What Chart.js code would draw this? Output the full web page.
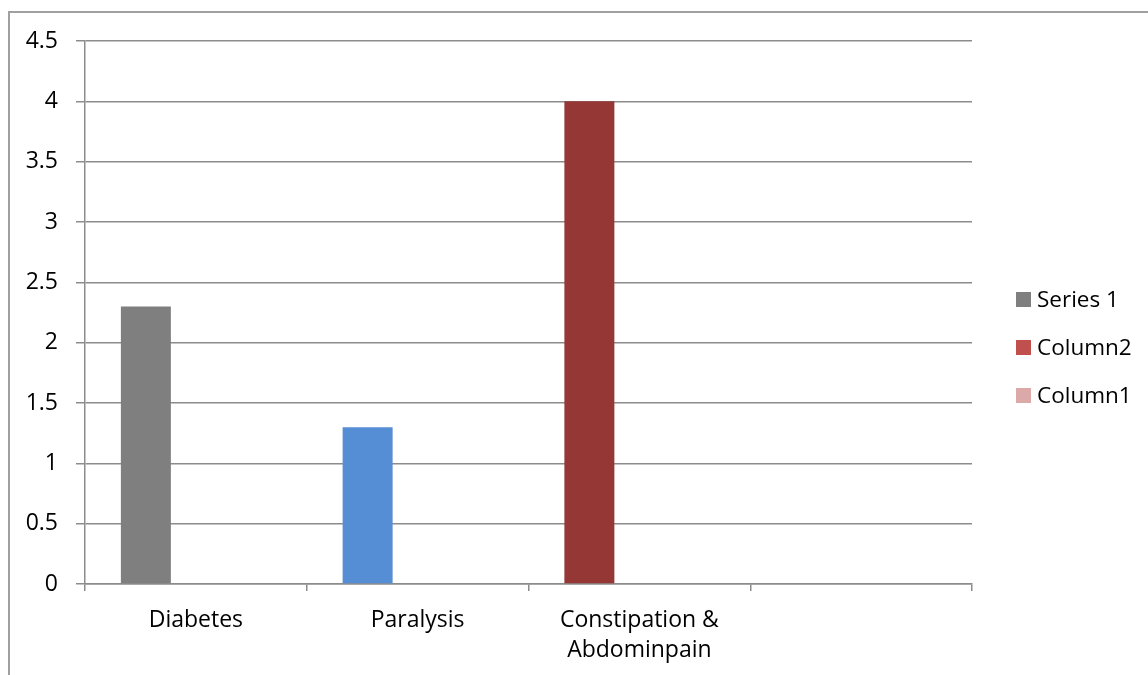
<!DOCTYPE html>
<html>
<head>
<meta charset="utf-8">
<script src="https://cdn.jsdelivr.net/npm/chart.js@4"></script>
<style>
  html, body { margin: 0; padding: 0; background: #fff; overflow: hidden; }
  #wrap { position: relative; width: 1148px; height: 675px; }
  #frame {
    position: absolute; left: 8px; top: 11px; width: 1400px; height: 900px;
    border-left: 2px solid #a0a0a0; border-top: 2px solid #a0a0a0;
    pointer-events: none;
  }
  #legend {
    position: absolute; left: 1016px; top: 286px;
    font-family: "Open Sans", sans-serif; font-size: 22.5px; color: #000;
  }
  .item { height: 48px; display: flex; align-items: flex-start; }
  .box { width: 15px; height: 15px; margin-top: 6px; margin-right: 6px; }
  .label { line-height: 27px; margin-top: -1px; }
</style>
</head>
<body>
<div id="wrap">
  <canvas id="chart" width="1148" height="675"></canvas>
  <div id="frame"></div>
  <div id="legend"></div>
</div>
<script>
// categories along the x axis (last one is empty in the original)
const categories = ['Diabetes', 'Paralysis', ['Constipation &', 'Abdominpain'], ''];

// series
const seriesNames = ['Series 1', 'Column2', 'Column1'];
const series1 = [2.3, 1.3, 4, null];
const column2 = [null, null, null, null];
const column1 = [null, null, null, null];

// colours
const series1BarColors = ['#7f7f7f', '#558ed5', '#953735', '#7f7f7f'];
const legendColors = ['#7f7f7f', '#c0504d', '#dca9a9'];

// y axis
const yMin = 0, yMax = 4.5, yStep = 0.5;

const gridColor = '#8c8c8c';
const fontFamily = '"Open Sans", sans-serif';

Chart.defaults.font.family = fontFamily;
Chart.defaults.font.size = 23;
Chart.defaults.color = '#000';

const ctx = document.getElementById('chart').getContext('2d');
const chart = new Chart(ctx, {
    type: 'bar',
    data: {
        labels: categories,
        datasets: [
            { label: seriesNames[0], data: series1, backgroundColor: series1BarColors },
            { label: seriesNames[1], data: column2, backgroundColor: legendColors[1] },
            { label: seriesNames[2], data: column1, backgroundColor: legendColors[2] }
        ]
    },
    options: {
        responsive: false,
        animation: false,
        events: [],
        categoryPercentage: 150 / 221.75,
        barPercentage: 1,
        layout: {
            padding: { left: 0, top: 41, right: 176, bottom: 0 }
        },
        plugins: {
            legend: { display: false },
            title: { display: false },
            tooltip: { enabled: false }
        },
        scales: {
            x: {
                offset: true,
                grid: {
                    offset: true,
                    drawOnChartArea: false,
                    drawTicks: true,
                    tickLength: 7,
                    color: gridColor,
                    lineWidth: 1.5
                },
                border: { display: true, color: gridColor, width: 1.5 },
                ticks: {
                    padding: 15,
                    maxRotation: 0,
                    autoSkip: false,
                    font: { size: 23, lineHeight: 1.28 }
                },
                afterFit: (scale) => { scale.height = 675 - 584; }
            },
            y: {
                min: yMin,
                max: yMax,
                grid: {
                    color: gridColor,
                    lineWidth: 1.5,
                    tickLength: 9
                },
                border: { display: true, color: gridColor, width: 1.5 },
                ticks: {
                    stepSize: yStep,
                    padding: 18,
                    font: { size: 23 },
                    callback: (v) => String(Math.round(v * 10) / 10)
                },
                afterFit: (scale) => { scale.width = 85; }
            }
        }
    }
});

// legend on the right, built from the dataset names/colours
const legendEl = document.getElementById('legend');
seriesNames.forEach((name, i) => {
    const row = document.createElement('div');
    row.className = 'item';
    row.innerHTML = '<div class="box" style="background:' + legendColors[i] + '"></div><div class="label">' + name + '</div>';
    legendEl.appendChild(row);
});
</script>
</body>
</html>
